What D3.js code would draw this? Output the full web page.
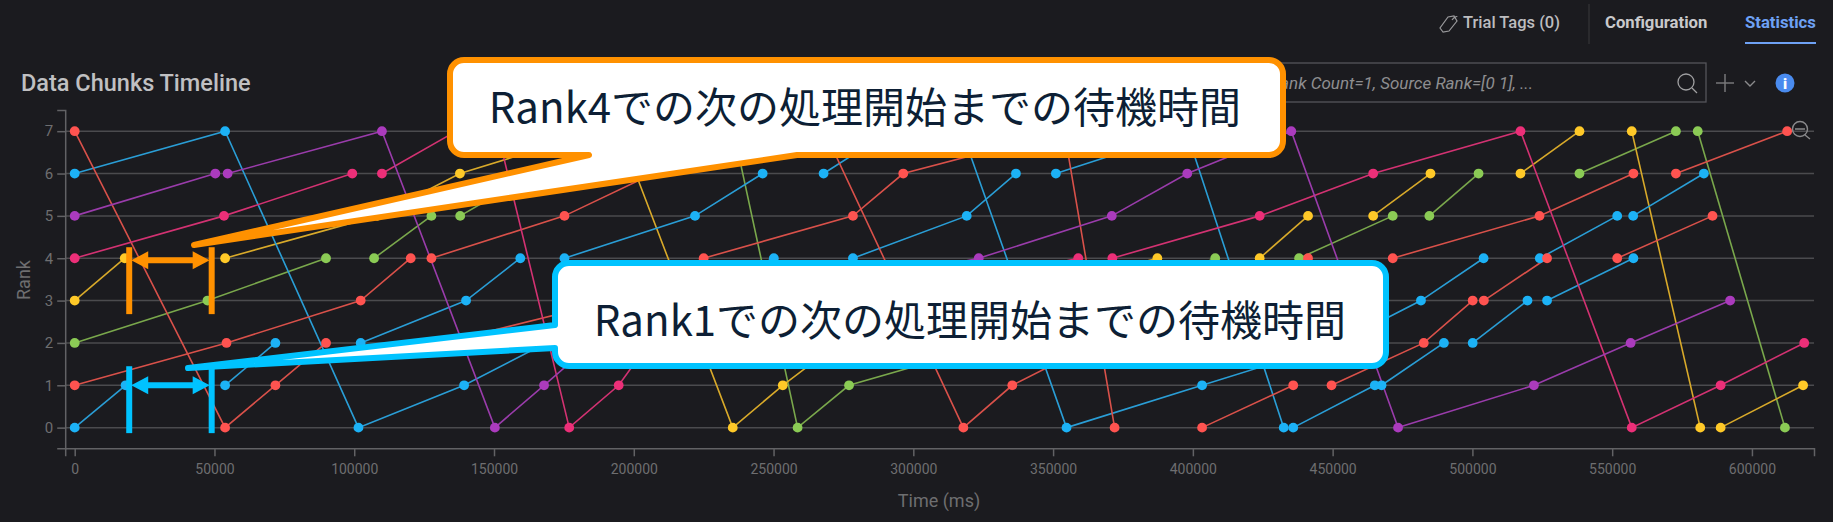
<!DOCTYPE html>
<html><head><meta charset="utf-8">
<script src="https://cdnjs.cloudflare.com/ajax/libs/d3/7.8.5/d3.min.js"></script>
<style>html,body{margin:0;padding:0;background:#1b1b1f;overflow:hidden}svg{display:block}text{font-family:Roboto,sans-serif}</style>
</head><body><svg id="c" width="1833" height="522"></svg>
<script>
const title = "Data Chunks Timeline";
const xTicks = [0,50000,100000,150000,200000,250000,300000,350000,400000,450000,500000,550000,600000];
const yTicks = [0,1,2,3,4,5,6,7];
const xLabel = "Time (ms)", yLabel = "Rank";
const redPaths = [
 [[0,7],[53800,0],[71800,1],[89900,2]],
 [[0,1],[54300,2],[102300,3],[120200,4]],
 [[127600,4],[175200,5],[207000,6],[268200,7],[317900,0],[335400,1],[365300,2],[410000,3],[441200,4]],
 [[131500,2],[192700,3],[225000,4],[278400,5],[296400,6],[354000,7],[372000,0]],
 [[403300,0],[435900,1]],
 [[449600,1],[482600,2],[500100,3]],
 [[504100,3],[526700,4]],
 [[471500,4],[524000,5],[557600,6]],
 [[572800,6],[612600,7]],
 [[551800,4],[585900,5]]
];
const bluePaths = [
 [[0,0],[18200,1]],
 [[53800,1],[71800,2]],
 [[0,6],[53800,7],[101500,0],[139300,1],[168600,2],[215000,3],[250100,4]],
 [[102300,2],[140000,3],[159400,4]],
 [[175200,4],[221900,5],[246100,6]],
 [[267900,6],[291700,7]],
 [[278400,4],[319100,5],[336700,6]],
 [[317400,7],[354800,0],[403300,1],[452000,2],[481600,3],[504000,4]],
 [[351000,6],[397700,7],[432500,0]],
 [[435900,0],[465100,1]],
 [[467500,1],[489800,2]],
 [[500100,2],[519700,3]],
 [[526700,3],[557600,4]],
 [[524100,4],[551800,5]],
 [[557500,5],[582800,6]]
];
const purplePaths = [
 [[0,5],[50300,6]],
 [[54700,6],[109900,7],[150300,0],[167900,1],[185400,2],[250000,3],[323400,4],[371000,5],[398000,6],[435200,7],[473400,0],[522000,1],[556600,2],[592200,3]]
];
const pinkPaths = [
 [[0,4],[53400,5],[99300,6]],
 [[109900,6],[136500,7]],
 [[151200,7],[176900,0],[194600,1],[205500,2],[290000,3],[359000,4]],
 [[371200,4],[423900,5],[464500,6],[517200,7],[557000,0],[588800,1],[618700,2]]
];
const yellowPaths = [
 [[0,3],[17900,4]],
 [[53800,4],[108200,5],[137800,6],[187000,7]],
 [[194900,7],[235400,0],[253300,1],[273300,2],[330000,3],[387300,4]],
 [[423900,4],[441200,5]],
 [[464500,5],[485000,6]],
 [[517200,6],[538300,7]],
 [[557000,7],[581500,0]],
 [[588800,0],[618300,1]]
];
const greenPaths = [
 [[0,2],[47500,3],[89900,4]],
 [[107100,4],[127600,5]],
 [[137900,5],[164000,6],[235700,7],[258600,0],[277000,1],[329600,2],[370000,3],[408000,4]],
 [[438000,4],[471500,5]],
 [[484600,5],[502200,6]],
 [[538300,6],[572800,7]],
 [[580600,7],[611800,0]]
];
const groups = [
 {paths:greenPaths, dot:"#8bcb55", line:"#7aa84c"},
 {paths:yellowPaths, dot:"#ffc928", line:"#d9aa2a"},
 {paths:bluePaths, dot:"#1cb2f6", line:"#2a9ed6"},
 {paths:redPaths, dot:"#ff5350", line:"#d9514a"},
 {paths:pinkPaths, dot:"#ec2f78", line:"#d33272"},
 {paths:purplePaths, dot:"#ab3bbd", line:"#9a3cab"}
];
// wait-time brackets: [start time, end time, rank at arrow, rank low, rank high]
const orangeBracket = [19500,49000,3.95,2.68,4.26];
const blueBracket = [19500,49000,1.0,-0.13,1.45];
const calloutTop = "Rank4での次の処理開始までの待機時間";
const calloutBottom = "Rank1での次の処理開始までの待機時間";

const svg = d3.select("#c");
const x = d3.scaleLinear().domain([-3400,622200]).range([65.2,1814]);
const y = d3.scaleLinear().domain([-0.488,7.5]).range([448.3,110]);

// grid
svg.append("g").selectAll("line").data(yTicks).join("line")
 .attr("x1",x.range()[0]).attr("x2",x.range()[1]).attr("y1",d=>y(d)).attr("y2",d=>y(d))
 .attr("stroke","#4b4b4e").attr("stroke-width",1.5);

// axes
const ax = svg.append("g").attr("transform","translate(0,448.3)")
 .call(d3.axisBottom(x).tickValues(xTicks).tickFormat(d=>String(d)).tickSize(8).tickPadding(8));
const ay = svg.append("g").attr("transform","translate(65.2,0)")
 .call(d3.axisLeft(y).tickValues(yTicks).tickFormat(d=>String(d)).tickSize(8).tickPadding(4));
[ax,ay].forEach(a=>{
 a.selectAll("path,line").attr("stroke","#626265").attr("stroke-width",1.5);
 a.selectAll("text").attr("fill","#6e6e70").style("font-size","14px").style("font-family","Roboto,sans-serif");
});
ay.selectAll("text").style("font-size","15px");
svg.append("text").text(xLabel).attr("x",939).attr("y",507).attr("text-anchor","middle").attr("fill","#6e6e70").style("font-size","18px");
svg.append("text").text(yLabel).attr("transform","translate(30,280) rotate(-90)").attr("text-anchor","middle").attr("fill","#6e6e70").style("font-size","18px");

// series
const ln = d3.line().x(d=>x(d[0])).y(d=>y(d[1]));
groups.forEach(g=>{
 svg.append("g").selectAll("path").data(g.paths).join("path").attr("d",ln)
  .attr("fill","none").attr("stroke",g.line).attr("stroke-width",1.6);
});
groups.forEach(g=>{
 svg.append("g").selectAll("circle").data(g.paths.flat()).join("circle")
  .attr("cx",d=>x(d[0])).attr("cy",d=>y(d[1])).attr("r",4.9).attr("fill",g.dot);
});

// zoom-out glass
const zg = svg.append("g").attr("fill","none").attr("stroke","#8a8a8c").attr("stroke-width",1.4);
zg.append("circle").attr("cx",1800).attr("cy",129).attr("r",7.5);
zg.append("path").attr("d","M1795 129H1805M1805 135L1810 139");

// header
svg.append("text").text(title).attr("x",21).attr("y",90.5).attr("fill","#c0c0c2").style("font-size","23.5px").style("font-weight",500);
svg.append("text").text("Trial Tags (0)").attr("x",1463).attr("y",28).attr("fill","#bdbdbf").style("font-size","16.5px").style("font-weight",500);
svg.append("path").attr("d","M1443 32l-3 -4 8 -11 6 -1 3 5 -8 10zM1452 20c2 -3 5 -4 5 -3").attr("fill","none").attr("stroke","#9a9a9c").attr("stroke-width",1.2);
svg.append("line").attr("x1",1589).attr("x2",1589).attr("y1",4).attr("y2",44).attr("stroke","#3a3a3d");
svg.append("text").text("Configuration").attr("x",1605).attr("y",28).attr("fill","#c9c9cb").style("font-size","16.7px").style("font-weight",700);
svg.append("text").text("Statistics").attr("x",1745).attr("y",28).attr("fill","#6ea1f4").style("font-size","16.7px").style("font-weight",700);
svg.append("rect").attr("x",1745).attr("y",42).attr("width",71).attr("height",2).attr("fill","#6ea1f4");

// search
svg.append("rect").attr("x",1100).attr("y",63).attr("width",606).attr("height",39).attr("fill","none").attr("stroke","#55555b").attr("stroke-width",1.3);
svg.append("text").text("Rank Count=1, Source Rank=[0 1], ...").attr("x",1533).attr("y",88.5).attr("text-anchor","end")
 .attr("fill","#8e8e90").style("font-size","17px").style("font-style","italic");
svg.append("g").attr("fill","none").attr("stroke","#a0a0a2").attr("stroke-width",1.3).call(g=>{
 g.append("circle").attr("cx",1686).attr("cy",82).attr("r",8);
 g.append("path").attr("d","M1692 88L1697 93");
});
svg.append("path").attr("d","M1725 74V92M1716 83H1734").attr("stroke","#77777a").attr("stroke-width",1.5);
svg.append("path").attr("d","M1745 81L1750 86L1755 81").attr("stroke","#8a8a8c").attr("stroke-width",1.4).attr("fill","none");
svg.append("circle").attr("cx",1785).attr("cy",83).attr("r",9.5).attr("fill","#4a8bee");
svg.append("text").text("i").attr("x",1785).attr("y",89).attr("text-anchor","middle").attr("fill","#fff").style("font-size","15px").style("font-weight",900);

// brackets
function bracket(b,col){
 const g = svg.append("g");
 const [a,e,r,lo,hi]=b, x0=x(a), x1=x(e), yy=y(r);
 [x0,x1].forEach(v=>g.append("line").attr("x1",v).attr("x2",v).attr("y1",y(lo)).attr("y2",y(hi)).attr("stroke",col).attr("stroke-width",6));
 g.append("line").attr("x1",x0+12).attr("x2",x1-12).attr("y1",yy).attr("y2",yy).attr("stroke",col).attr("stroke-width",6);
 g.append("path").attr("fill",col).attr("d",`M${x0+2} ${yy}l17 -9v18zM${x1-2} ${yy}l-17 -9v18z`);
}
bracket(orangeBracket,"#ff9100");
bracket(blueBracket,"#00c3ff");

// callouts
const cfont = "'Noto Sans CJK JP','Noto Sans',sans-serif";
svg.append("path").attr("fill","#fff").attr("stroke","#ff9100").attr("stroke-width",6).attr("stroke-linejoin","round")
 .attr("d","M464 60H1269A14 14 0 0 1 1283 74V141A14 14 0 0 1 1269 155H797L194 245L589 155H464A14 14 0 0 1 450 141V74A14 14 0 0 1 464 60Z");
svg.append("text").text(calloutTop).attr("x",865).attr("y",123).attr("text-anchor","middle").attr("fill","#0d1f35")
 .style("font-family",cfont).style("font-size","42px");
svg.append("path").attr("fill","#fff").attr("stroke","#00c3ff").attr("stroke-width",6).attr("stroke-linejoin","round")
 .attr("d","M569 263H1372A14 14 0 0 1 1386 277V352A14 14 0 0 1 1372 366H569A14 14 0 0 1 555 352V348L188 368L555 325V277A14 14 0 0 1 569 263Z");
svg.append("text").text(calloutBottom).attr("x",970).attr("y",336).attr("text-anchor","middle").attr("fill","#0d1f35")
 .style("font-family",cfont).style("font-size","42px");
</script></body></html>
